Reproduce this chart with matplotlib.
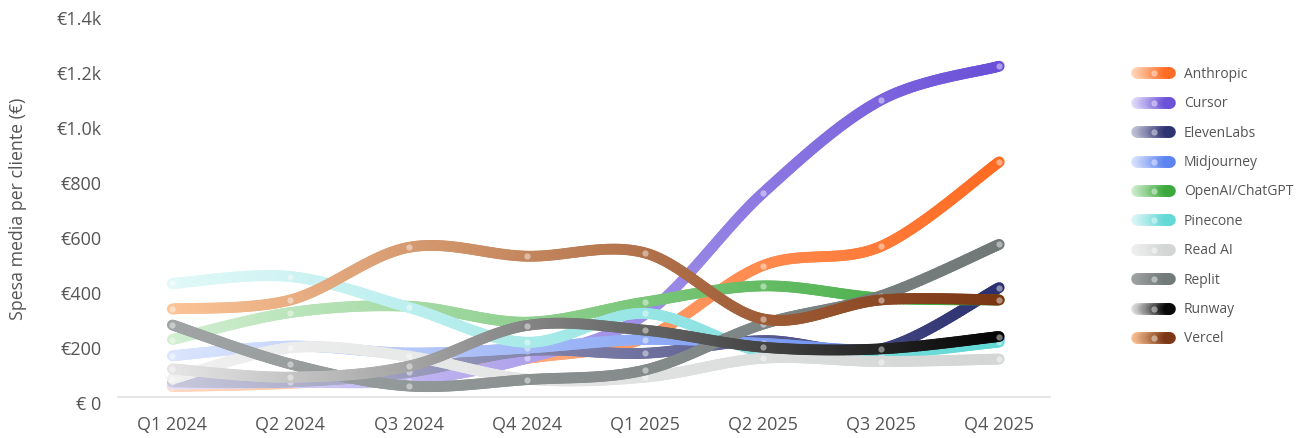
import numpy as np
import matplotlib
matplotlib.use("Agg")
import matplotlib.pyplot as plt
from matplotlib.collections import LineCollection
from matplotlib.colors import to_rgb
from matplotlib.ticker import FuncFormatter
import matplotlib.transforms as mtransforms

plt.rcParams["font.family"] = ["Open Sans", "DejaVu Sans"]

quarters = ["Q1 2024", "Q2 2024", "Q3 2024", "Q4 2024",
            "Q1 2025", "Q2 2025", "Q3 2025", "Q4 2025"]

anthropic = [38, 50, 85, 140, 215, 478, 548, 855]
cursor = [47, 53, 60, 141, 300, 742, 1080, 1203]
elevenlabs = [55, 55, 90, 168, 159, 205, 175, 398]
midjourney = [150, 185, 160, 178, 209, 195, 170, 210]
openai = [209, 307, 330, 272, 345, 404, 360, 353]
pinecone = [413, 438, 326, 199, 304, 165, 157, 200]
read_ai = [66, 179, 148, 65, 72, 141, 129, 138]
replit = [262, 120, 40, 63, 98, 265, 368, 555]
runway = [102, 72, 112, 260, 243, 181, 175, 220]
vercel = [320, 353, 544, 512, 524, 284, 353, 353]

names = ["Anthropic", "Cursor", "ElevenLabs", "Midjourney", "OpenAI/ChatGPT",
         "Pinecone", "Read AI", "Replit", "Runway", "Vercel"]
series = [anthropic, cursor, elevenlabs, midjourney, openai,
          pinecone, read_ai, replit, runway, vercel]
start_colors = ["#ffd9be", "#e4e0fa", "#c8c8dc", "#dbe5fd", "#d2efd2",
                "#e2f8f8", "#f0f0f0", "#a0a4a4", "#e6e6e6", "#fcc497"]
end_colors = ["#ff6b22", "#6a50d8", "#2c3070", "#5a82f0", "#3aa83a",
              "#60d8d6", "#d4d6d6", "#707878", "#050505", "#7a3512"]


def smooth(xs, ys, n=40):
    # catmull-rom through the points
    xs = np.asarray(xs, float)
    ys = np.asarray(ys, float)
    px = np.concatenate([[xs[0]], xs, [xs[-1]]])
    py = np.concatenate([[ys[0]], ys, [ys[-1]]])
    out_x, out_y = [], []
    t = np.linspace(0, 1, n, endpoint=False)
    for i in range(1, len(px) - 2):
        for arr, out in ((px, out_x), (py, out_y)):
            p0, p1, p2, p3 = arr[i - 1], arr[i], arr[i + 1], arr[i + 2]
            c1 = p1 + (p2 - p0) / 6
            c2 = p2 - (p3 - p1) / 6
            b = ((1 - t) ** 3 * p1 + 3 * (1 - t) ** 2 * t * c1
                 + 3 * (1 - t) * t ** 2 * c2 + t ** 3 * p2)
            out.extend(b)
    out_x.append(xs[-1])
    out_y.append(ys[-1])
    return np.array(out_x), np.array(out_y)


def gradient_line(ax, x, y, c0, c1, frac, lw, z):
    pts = np.column_stack([x, y]).reshape(-1, 1, 2)
    segs = np.concatenate([pts[:-1], pts[1:]], axis=1)
    f = (frac[:-1] + frac[1:]) / 2
    a, b = np.array(to_rgb(c0)), np.array(to_rgb(c1))
    cols = a[None, :] * (1 - f[:, None]) + b[None, :] * f[:, None]
    lc = LineCollection(segs, colors=cols, linewidths=lw, capstyle="round",
                        joinstyle="round", zorder=z)
    ax.add_collection(lc)


W, H = 1299, 439
fig = plt.figure(figsize=(W / 100, H / 100), dpi=100)
ax = fig.add_axes([118 / W, 1 - 398 / H, (1050 - 118) / W, (398 - 13) / H])

xi = np.arange(len(quarters))
for k, (vals, c0, c1) in enumerate(zip(series, start_colors, end_colors)):
    sx, sy = smooth(xi, vals)
    gradient_line(ax, sx, sy, c0, c1, sx / xi[-1], 7.8, 2 + k)
    ax.plot(xi, vals, "o", ms=4.5, mfc="white", mec="none", alpha=0.45,
            zorder=2 + k)

ax.set_xlim(-0.46, 7.43)
ax.set_ylim(0, 1400)
ax.set_xticks(xi)
ax.set_xticklabels(quarters)
ax.set_yticks(np.arange(0, 1401, 200))


def euro(v, pos):
    if v == 0:
        return "€ 0"
    if v >= 1000:
        return f"€{v / 1000:.1f}k"
    return f"€{v:.0f}"


ax.yaxis.set_major_formatter(FuncFormatter(euro))
ax.tick_params(axis="both", length=0, labelsize=13, labelcolor="#555555")
ax.tick_params(axis="x", pad=13)
ax.tick_params(axis="y", pad=12)
shift = mtransforms.ScaledTranslation(0, -5 / 100, fig.dpi_scale_trans)
for lab in ax.get_yticklabels():
    lab.set_transform(lab.get_transform() + shift)
for s in ["top", "right", "left"]:
    ax.spines[s].set_visible(False)
ax.spines["bottom"].set_color("#e2e2e2")
ax.spines["bottom"].set_linewidth(1.2)
ax.set_facecolor("none")

fig.text(18 / W, 1 - 209 / H, "Spesa media per cliente (€)", rotation=90,
         ha="center", va="center", fontsize=12.8, color="#555555")

# legend
lax = fig.add_axes([0, 0, 1, 1])
lax.set_xlim(0, W)
lax.set_ylim(H, 0)
lax.axis("off")
row_y = 74.3
for name, c0, c1 in zip(names, start_colors, end_colors):
    lx = np.linspace(1137, 1170, 30)
    ly = np.full_like(lx, row_y)
    gradient_line(lax, lx, ly, c0, c1, (lx - lx[0]) / (lx[-1] - lx[0]), 8.4, 2)
    lax.plot([1154], [row_y], "o", ms=4.5, mfc="white", mec="none",
             alpha=0.45, zorder=3)
    lax.text(1184, row_y, name, ha="left", va="center", fontsize=10,
             color="#555555")
    row_y += 29.4

fig.savefig("out.png", dpi=100)
